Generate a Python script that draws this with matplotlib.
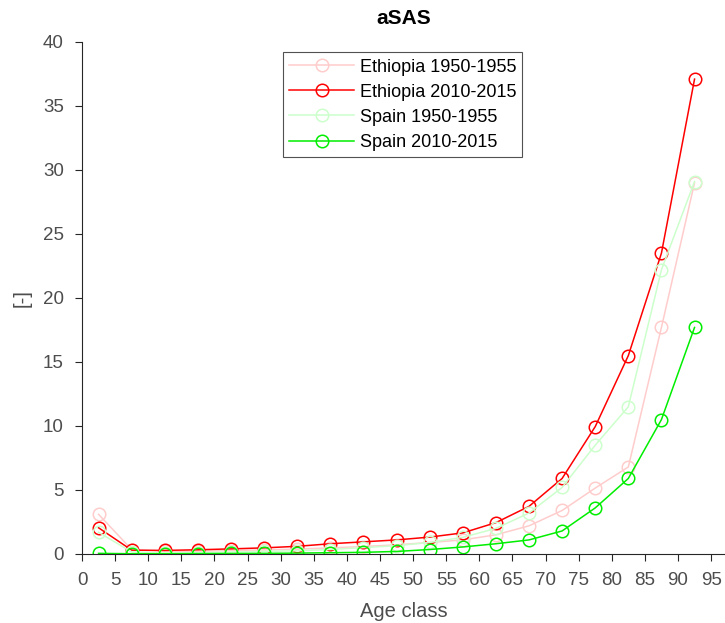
import numpy as np
import matplotlib
matplotlib.use("Agg")
import matplotlib.pyplot as plt

plt.rcParams['font.family'] = ['Liberation Sans', 'DejaVu Sans']

age = [2.5, 7.5, 12.5, 17.5, 22.5, 27.5, 32.5, 37.5, 42.5, 47.5,
       52.5, 57.5, 62.5, 67.5, 72.5, 77.5, 82.5, 87.5, 92.5]

eth_1950 = [3.1, 0.35, 0.22, 0.22, 0.27, 0.32, 0.38, 0.48, 0.58, 0.72,
            0.9, 1.1, 1.5, 2.2, 3.4, 5.15, 6.8, 17.7, 29.0]
eth_2010 = [2.05, 0.3, 0.28, 0.33, 0.4, 0.48, 0.6, 0.8, 0.95, 1.1,
            1.32, 1.65, 2.45, 3.72, 5.9, 9.95, 15.5, 23.5, 37.1]
esp_1950 = [1.7, 0.15, 0.08, 0.1, 0.15, 0.2, 0.25, 0.35, 0.5, 0.65,
            0.9, 1.3, 2.0, 3.2, 5.2, 8.5, 11.5, 22.2, 29.1]
esp_2010 = [0.05, 0.02, 0.02, 0.03, 0.04, 0.05, 0.07, 0.1, 0.13, 0.2,
            0.35, 0.55, 0.8, 1.1, 1.8, 3.6, 5.9, 10.5, 17.7]

series = [
    ("Ethiopia 1950-1955", eth_1950, "#ffcccc"),
    ("Ethiopia 2010-2015", eth_2010, "#ff0000"),
    ("Spain 1950-1955", esp_1950, "#ccffcc"),
    ("Spain 2010-2015", esp_2010, "#00ee00"),
]

fig = plt.figure(figsize=(7.25, 6.23), dpi=100)
ax = fig.add_axes([82 / 725, (623 - 554) / 623, (725 - 82) / 725, (554 - 42) / 623])

for name, vals, col in series:
    ax.plot(age, vals, color=col, lw=1.1, marker='o', ms=9,
            mfc='none', mec=col, mew=1.1, label=name)

ax.set_xlim(0, 97.1)
ax.set_ylim(0, 40)
ax.set_xticks(np.arange(0, 100, 5))
ax.set_yticks(np.arange(0, 45, 5))
for s in ['top', 'right']:
    ax.spines[s].set_visible(False)
for s in ['left', 'bottom']:
    ax.spines[s].set_color('#262626')
ax.tick_params(direction='out', length=5, colors='#262626', labelcolor='#4d4d4d',
               labelsize=13.5, pad=8)

ax.set_xlabel("Age class", fontsize=14.5, color='#4d4d4d', labelpad=9)
ax.set_ylabel("[-]", fontsize=14.5, color='#4d4d4d', labelpad=8)
ax.set_title("aSAS", fontsize=15, fontweight='bold', pad=13)

leg = ax.legend(loc='upper left', bbox_to_anchor=(0.3125, 0.98), fontsize=13,
                frameon=True, fancybox=False, edgecolor='#262626',
                handlelength=3.6, handletextpad=0.3, borderpad=0.35,
                labelspacing=0.45, borderaxespad=0)
leg.get_frame().set_linewidth(0.8)

fig.savefig("out.png", dpi=100)
